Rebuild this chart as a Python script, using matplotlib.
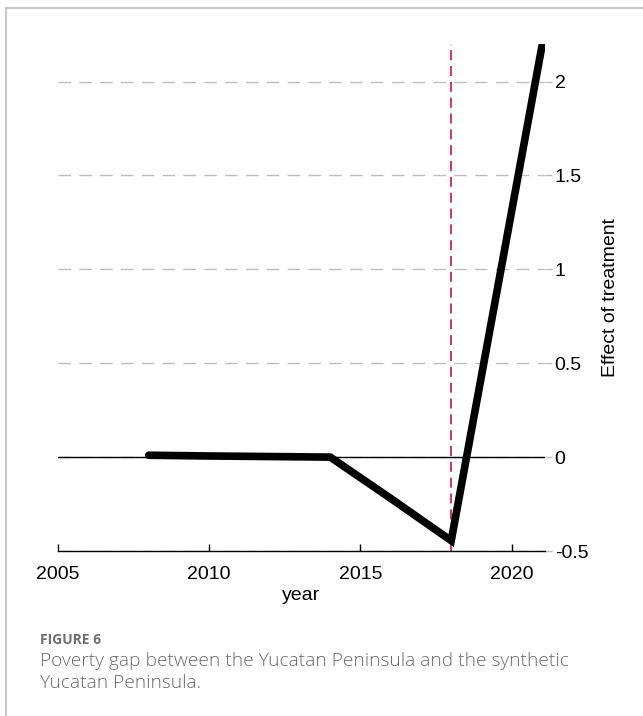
import matplotlib
matplotlib.use("Agg")
import matplotlib.pyplot as plt

# ── data ──
years  = [2008, 2010, 2012, 2014, 2016, 2018, 2021]
effect = [0.01, 0.006, 0.003, 0.0, -0.22, -0.445, 2.19]
treat_year = 2018
xticks = [2005, 2010, 2015, 2020]
yticks = [-0.5, 0, 0.5, 1, 1.5, 2]
ytick_labels = ["-0.5", "0", "0.5", "1", "1.5", "2"]

plt.rcParams["font.family"] = ["Liberation Sans", "DejaVu Sans"]

fig = plt.figure(figsize=(6.43, 7.16), dpi=100)

# outer frame (top + left)
fig.add_artist(plt.Line2D([6/643, 1], [1 - 7.5/716] * 2, color="#c8c8c8", lw=1.5,
                          transform=fig.transFigure))
fig.add_artist(plt.Line2D([6/643] * 2, [0, 1 - 7.5/716], color="#c8c8c8", lw=1.5,
                          transform=fig.transFigure))

ax = fig.add_axes([58/643, 1 - 551/716, (545 - 58)/643, (551 - 44)/716])
ax.set_xlim(2005, 2021.1)
ax.set_ylim(-0.5, 2.2)

# grid
for y in yticks:
    ax.axhline(y, color="#bdbdbd", lw=1.0, dashes=(9, 6), zorder=1)
ax.axhline(0, color="black", lw=1.0, zorder=2)
ax.axvline(treat_year, color="#c8163f", lw=1.2, dashes=(6, 3.5), zorder=2)

ax.plot(years, effect, color="black", lw=5.5, solid_capstyle="round",
        solid_joinstyle="miter", zorder=3)

for s in ["left", "top", "right"]:
    ax.spines[s].set_visible(False)
ax.spines["bottom"].set_linewidth(1.0)

ax.set_xticks(xticks)
ax.set_xticklabels([str(x) for x in xticks], fontsize=14)
ax.tick_params(axis="x", direction="in", length=5, width=1, pad=11)

ax.yaxis.tick_right()
ax.yaxis.set_label_position("right")
ax.set_yticks(yticks)
ax.set_yticklabels(ytick_labels, fontsize=14)
ax.tick_params(axis="y", length=5, width=1, color="#bdbdbd", pad=2)

ax.set_xlabel("year", fontsize=14, labelpad=3)
ax.set_ylabel("Effect of treatment", fontsize=14, labelpad=10)

# caption
fig.text(40/643, 1 - 640/716, "FIGURE 6", fontsize=10, fontweight="bold",
         color="#6e6e6e", family=["Open Sans", "DejaVu Sans"], va="center")
fig.text(40/643, 1 - 672/716,
         "Poverty gap between the Yucatan Peninsula and the synthetic\nYucatan Peninsula.",
         fontsize=13.8, color="#6a6a6a", family=["Open Sans", "DejaVu Sans"],
         va="center", linespacing=1.35, fontweight="light")

fig.savefig("out.png", dpi=100)
